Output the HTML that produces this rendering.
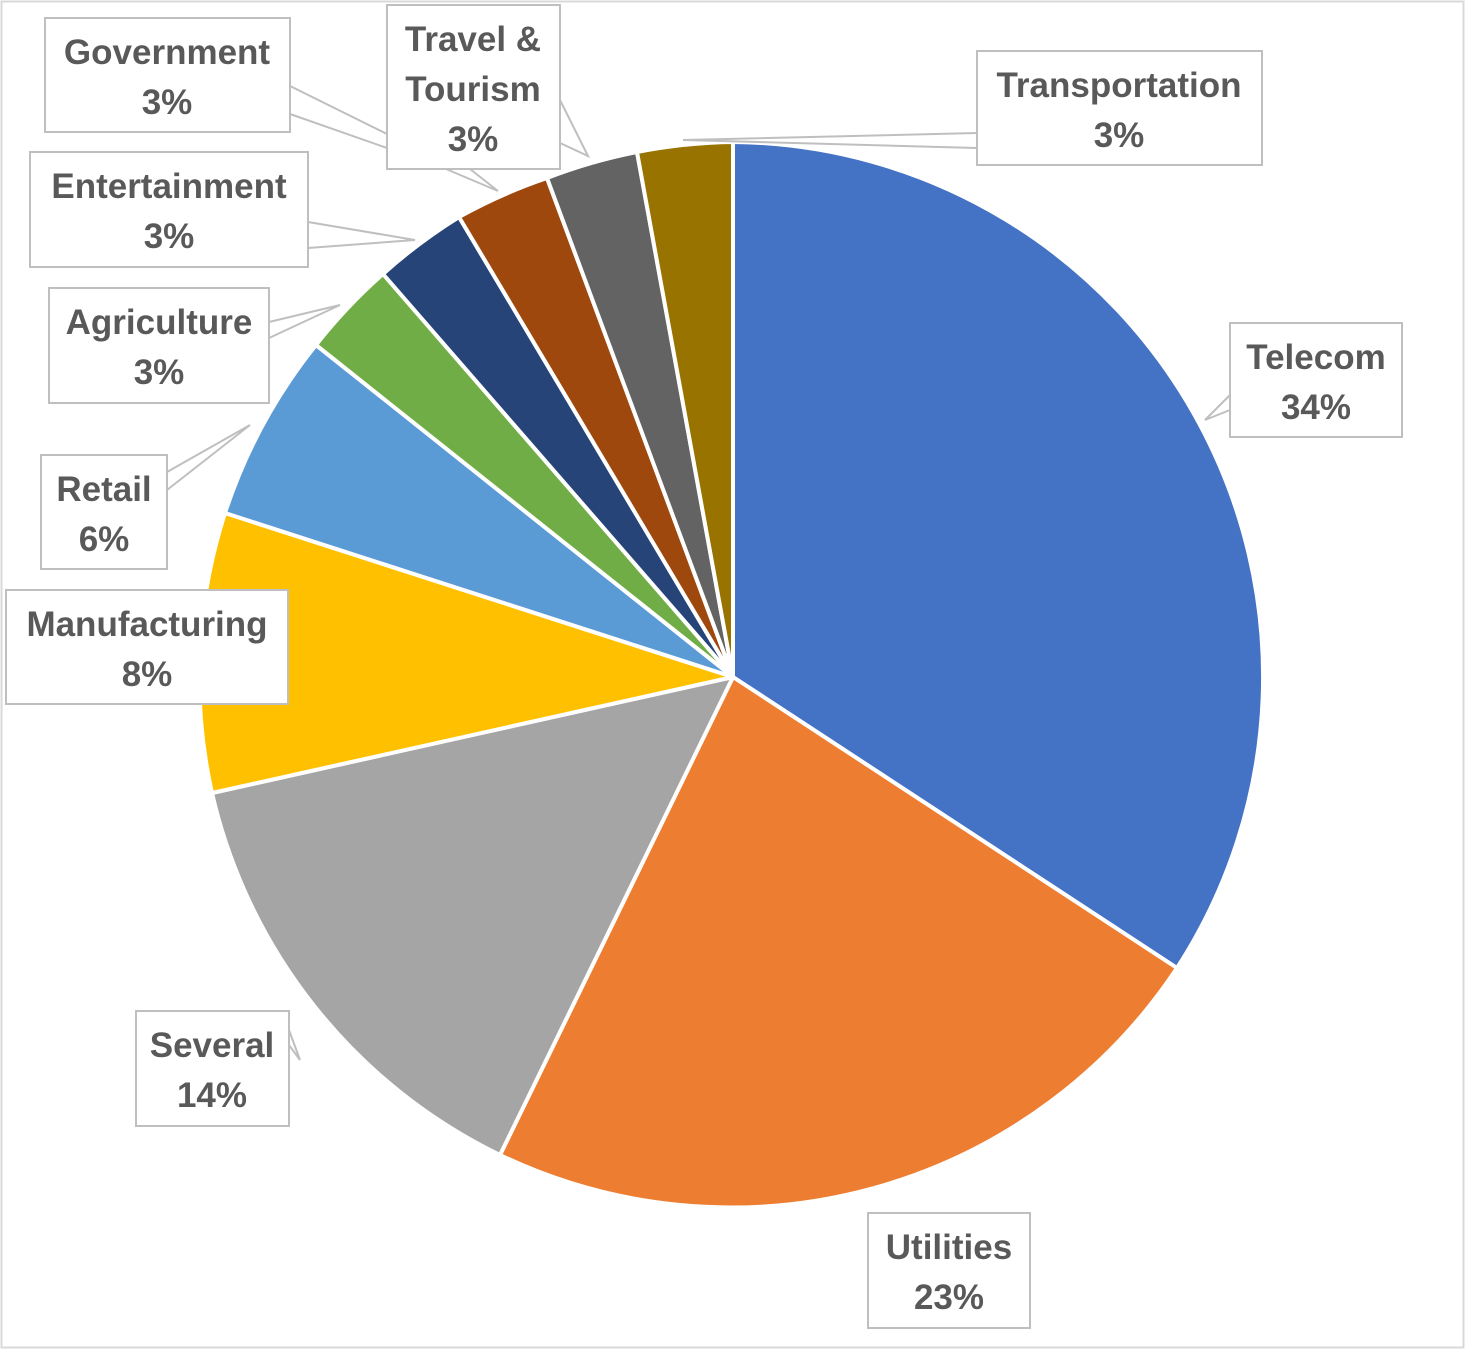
<!DOCTYPE html><html><head><style>body{margin:0;background:#fff}svg{display:block}text{font-family:"Liberation Sans",sans-serif;font-weight:bold;font-size:35px;fill:#595959;text-anchor:middle}</style></head><body>
<svg width="1466" height="1356" viewBox="0 0 1466 1356">
<rect x="1.5" y="1.5" width="1462" height="1346" fill="#fff" stroke="#d9d9d9" stroke-width="2"/>
<g stroke="#fff" stroke-width="4" stroke-linejoin="round">
<path d="M733,677 L733,142 A535,535 0 0 1 1177,968Z" fill="#4472C4"/>
<path d="M733,677 L1177,968 A535,535 0 0 1 500,1155Z" fill="#ED7D31"/>
<path d="M733,677 L500,1155 A535,535 0 0 1 212,793Z" fill="#A5A5A5"/>
<path d="M733,677 L212,793 A535,535 0 0 1 225,513Z" fill="#FFC000"/>
<path d="M733,677 L225,513 A535,535 0 0 1 316,345Z" fill="#5B9BD5"/>
<path d="M733,677 L316,345 A535,535 0 0 1 383,274Z" fill="#70AD47"/>
<path d="M733,677 L383,274 A535,535 0 0 1 459,217Z" fill="#264478"/>
<path d="M733,677 L459,217 A535,535 0 0 1 547,178Z" fill="#9E480E"/>
<path d="M733,677 L547,178 A535,535 0 0 1 637,152Z" fill="#636363"/>
<path d="M733,677 L637,152 A535,535 0 0 1 733,142Z" fill="#997300"/>
</g>
<g fill="#fff" stroke="#bfbfbf" stroke-width="2">
<polyline fill="none" points="977,133 683,140 977,148"/>
<polyline fill="none" points="1230,395 1205,420 1230,410"/>
<polyline fill="none" points="289,1030 300,1060 289,1045"/>
<polyline fill="none" points="167,472 250,425 167,490"/>
<polyline fill="none" points="269,322 340,305 269,338"/>
<polyline fill="none" points="308,222 415,240 308,248"/>
<polyline fill="none" points="290,86 387,134"/>
<polyline fill="none" points="290,114 387,148"/>
<polyline fill="none" points="446,169 498,191 470,169"/>
<polyline fill="none" points="560,100 588,156 560,143"/>
<rect x="977" y="51" width="285" height="114"/>
<rect x="1230" y="323" width="172" height="114"/>
<rect x="868" y="1213" width="162" height="115"/>
<rect x="136" y="1011" width="153" height="115"/>
<rect x="6" y="590" width="282" height="114"/>
<rect x="41" y="455" width="126" height="114"/>
<rect x="49" y="288" width="220" height="115"/>
<rect x="30" y="152" width="278" height="115"/>
<rect x="45" y="18" width="245" height="114"/>
<rect x="387" y="5" width="173" height="164"/>
</g>
<text x="1119" y="97">Transportation</text><text x="1119" y="147">3%</text>
<text x="1316" y="369">Telecom</text><text x="1316" y="419">34%</text>
<text x="949" y="1259">Utilities</text><text x="949" y="1309">23%</text>
<text x="212" y="1057">Several</text><text x="212" y="1107">14%</text>
<text x="147" y="636">Manufacturing</text><text x="147" y="686">8%</text>
<text x="104" y="501">Retail</text><text x="104" y="551">6%</text>
<text x="159" y="334">Agriculture</text><text x="159" y="384">3%</text>
<text x="169" y="198">Entertainment</text><text x="169" y="248">3%</text>
<text x="167" y="64">Government</text><text x="167" y="114">3%</text>
<text x="473" y="51">Travel &amp;</text><text x="473" y="101">Tourism</text><text x="473" y="151">3%</text>
</svg></body></html>
